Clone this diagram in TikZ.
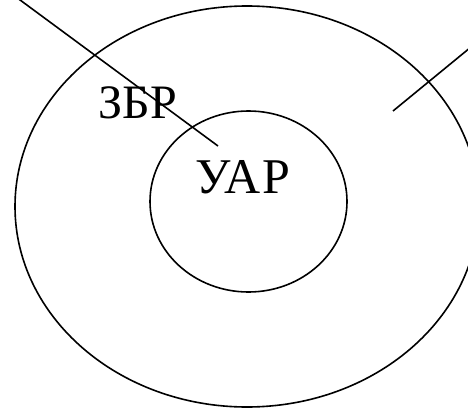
\documentclass[tikz,border=0pt]{standalone}
\usepackage{fontspec}
\setmainfont{Liberation Serif}
\newfontfamily\widefont[LetterSpace=5]{Liberation Serif}
\usepackage{tikz}
\usetikzlibrary{shapes.geometric}

\begin{document}
\begin{tikzpicture}[x=1pt, y=-1pt, line width=1.6pt]
        \useasboundingbox (0,0) rectangle (468,409);
        % Nodes
        \node[ellipse, draw, inner sep=0pt, minimum width=464pt, minimum height=401pt] (zbr) at (247,206.5) {};
        \node[ellipse, draw, inner sep=0pt, minimum width=197pt, minimum height=181pt] (uar) at (248.5,201.5) {};
        \node[anchor=base west, inner sep=0pt, font=\fontsize{48}{56}\selectfont] (zbrlabel) at (98,118) {ЗБР};
        \node[anchor=base west, inner sep=0pt, font=\widefont\fontsize{50}{56}\selectfont] (uarlabel) at (195,193) {УАР};

        % Lines
        \coordinate (a1) at (16,-3);
        \coordinate (a2) at (218,146);
        \coordinate (b1) at (482,38);
        \coordinate (b2) at (393,111);
        \draw[-] (a1) -- (a2);
        \draw[-] (b1) -- (b2);
    \end{tikzpicture}
\end{document}
